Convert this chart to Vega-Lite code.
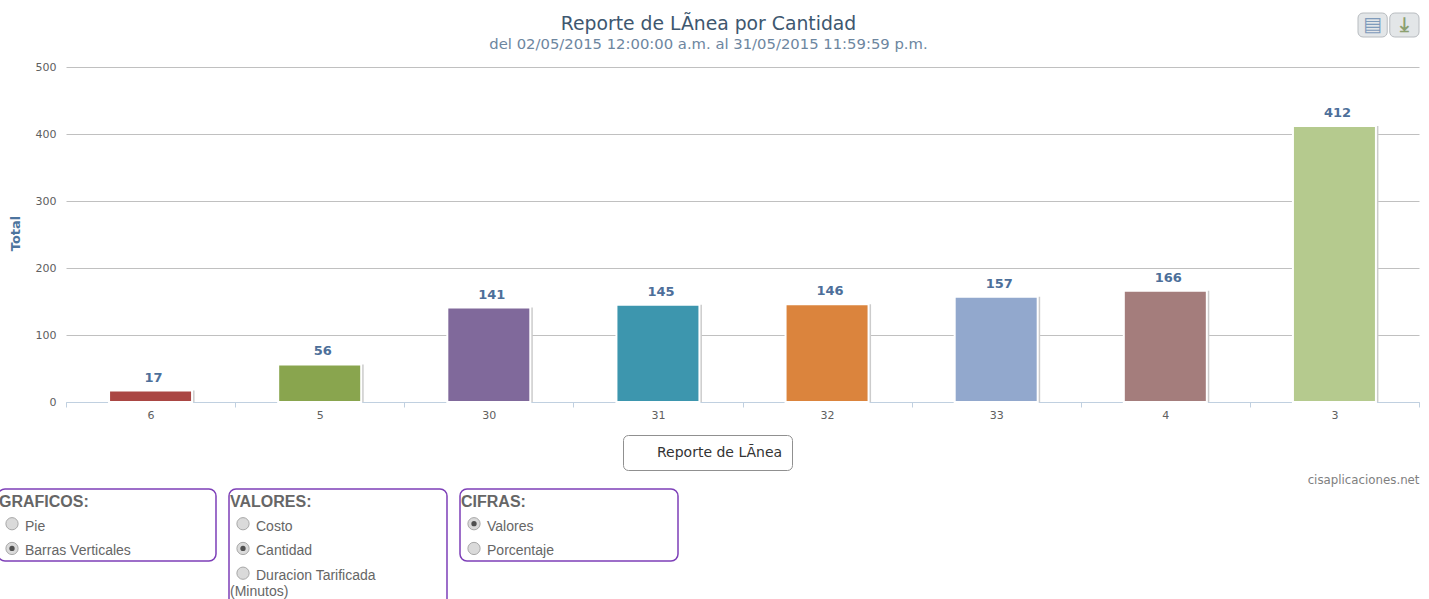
{
"$schema":"https://vega.github.io/schema/vega-lite/v6.json",
"background":"white",
"padding":{"left":-3,"top":12,"right":0,"bottom":0},
"config":{"view":{"stroke":null},"font":"DejaVu Sans"},
"datasets":{
"bars":[
{"line":"6","total":17,"series":"Reporte de LÃnea"},
{"line":"5","total":56,"series":"Reporte de LÃnea"},
{"line":"30","total":141,"series":"Reporte de LÃnea"},
{"line":"31","total":145,"series":"Reporte de LÃnea"},
{"line":"32","total":146,"series":"Reporte de LÃnea"},
{"line":"33","total":157,"series":"Reporte de LÃnea"},
{"line":"4","total":166,"series":"Reporte de LÃnea"},
{"line":"3","total":412,"series":"Reporte de LÃnea"}],
"buttons":[{"action":"print","glyph":"▤","tone":"print"},{"action":"download","glyph":"⤓","tone":"download"}],
"panels":[{"panel":"GRAFICOS","firstRow":-0.485,"lastRow":2.43},{"panel":"VALORES","firstRow":-0.485,"lastRow":4.25},{"panel":"CIFRAS","firstRow":-0.485,"lastRow":2.43}],
"options":[
{"panel":"GRAFICOS","row":0,"label":"GRAFICOS:","kind":"header","selected":false},
{"panel":"GRAFICOS","row":1,"label":"Pie","kind":"radio","selected":false},
{"panel":"GRAFICOS","row":2,"label":"Barras Verticales","kind":"radio","selected":true},
{"panel":"VALORES","row":0,"label":"VALORES:","kind":"header","selected":false},
{"panel":"VALORES","row":1,"label":"Costo","kind":"radio","selected":false},
{"panel":"VALORES","row":2,"label":"Cantidad","kind":"radio","selected":true},
{"panel":"VALORES","row":3,"label":"Duracion Tarificada","kind":"radio","selected":false},
{"panel":"VALORES","row":3.68,"label":"(Minutos)","kind":"wrap","selected":false},
{"panel":"CIFRAS","row":0,"label":"CIFRAS:","kind":"header","selected":false},
{"panel":"CIFRAS","row":1,"label":"Valores","kind":"radio","selected":true},
{"panel":"CIFRAS","row":2,"label":"Porcentaje","kind":"radio","selected":false}]
},
"align":"none",
"spacing":2,
"vconcat":[
{"width":1353,"height":335,
 "title":{"text":"Reporte de LÃnea por Cantidad","subtitle":"del 02/05/2015 12:00:00 a.m. al 31/05/2015 11:59:59 p.m.","anchor":"middle","dx":-34,"font":"DejaVu Sans","fontSize":18.8,"fontWeight":"normal","color":"#3E576F","subtitleFont":"DejaVu Sans","subtitleFontSize":14.8,"subtitleColor":"#6D869F","subtitlePadding":3,"offset":-39},
 "layer":[
 {"data":{"name":"bars"},
  "encoding":{
   "x":{"field":"line","type":"nominal","sort":null,"scale":{"paddingInner":0,"paddingOuter":0},
    "axis":{"title":"cisaplicaciones.net","titleAnchor":"end","titleFontSize":11.8,"titleFontWeight":"normal","titleColor":"#808080","titlePadding":54,"labelAngle":0,"labelFontSize":11,"labelColor":"#606060","labelPadding":2,"domainColor":"#C0D0E0","tickColor":"#C0D0E0","tickSize":5,"tickBand":"extent","grid":false}},
   "y":{"field":"total","type":"quantitative","scale":{"domain":[0,500]},
    "axis":{"title":"Total","titleFontSize":13,"titleFontWeight":"bold","titleColor":"#4D759E","titleX":-44,"titleY":166,"values":[0,100,200,300,400,500],"labelFontSize":11,"labelColor":"#606060","labelPadding":10,"domain":false,"ticks":false,"gridColor":"#C0C0C0","minExtent":68}}
  },
  "layer":[
   {"mark":{"type":"bar","size":83,"fill":"#CCCCCC","xOffset":2.5}},
   {"mark":{"type":"bar","size":83,"stroke":"white","strokeWidth":2},
    "encoding":{
     "color":{"field":"line","type":"nominal","sort":null,"legend":null,"scale":{"domain":["6","5","30","31","32","33","4","3"],"range":["#AA4643","#89A54E","#80699B","#3D96AE","#DB843D","#92A8CD","#A47D7C","#B5CA8E"]}},
     "opacity":{"field":"series","type":"nominal","scale":{"range":[1]},
      "legend":{"title":null,"orient":"none","legendX":557,"legendY":368,"strokeColor":"#909090","cornerRadius":5,"padding":9,"labelFontSize":14,"labelColor":"#333333","labelFont":"DejaVu Sans","symbolSize":289,"labelOffset":8,"offset":0,"symbolOpacity":0,"symbolStrokeWidth":0,"symbolFillColor":"white"}}}},
   {"mark":{"type":"text","dy":-13,"dx":3,"fontWeight":"bold","fontSize":13,"color":"#4D6F9A"},"encoding":{"text":{"field":"total","type":"quantitative"}}}
  ]},
 {"data":{"name":"buttons"},
  "encoding":{
   "x":{"field":"action","type":"nominal","sort":null,"axis":null,"scale":{"domain":["print","download"],"range":[1292,1353],"paddingInner":0.08,"paddingOuter":0}}
  },
  "layer":[
   {"mark":{"type":"bar","fill":"#E3E6E8","stroke":"#B8BCC0","cornerRadius":5,"clip":false},
    "encoding":{"y":{"datum":0,"type":"quantitative","axis":null,"scale":{"domain":[0,1],"range":[-30,-54]}},"y2":{"datum":1}}},
   {"mark":{"type":"text","fontSize":20,"font":"DejaVu Sans","fontWeight":"bold"},
    "encoding":{"y":{"datum":0.5,"type":"quantitative","axis":null,"scale":{"domain":[0,1],"range":[-30,-54]}},
     "text":{"field":"glyph"},
     "color":{"field":"tone","type":"nominal","legend":null,"scale":{"domain":["print","download"],"range":["#7F9BBB","#8CA070"]}}}}
  ]}
 ],
 "resolve":{"scale":{"x":"independent","y":"independent","color":"independent"},"axis":{"x":"independent","y":"independent"}}
},
{"width":612,"height":117,
 "layer":[
  {"data":{"name":"panels"},"mark":{"type":"bar","fill":"transparent","stroke":"#7D3FB8","strokeWidth":1.5,"cornerRadius":7},
   "encoding":{
    "x":{"field":"panel","type":"nominal","sort":["GRAFICOS","VALORES","CIFRAS"],"axis":null,"scale":{"domain":["GRAFICOS","VALORES","CIFRAS"],"range":[-68,612],"paddingInner":0.0563,"paddingOuter":0}},
    "y":{"field":"firstRow","type":"quantitative","axis":null,"scale":{"domain":[0,3.68],"range":[12,103],"nice":false,"zero":false}},"y2":{"field":"lastRow"}}},
  {"data":{"name":"options"},"transform":[{"filter":"datum.kind==='radio'"}],"mark":{"type":"point","filled":true,"size":150,"fill":"#DADADA","stroke":"#A8A8A8","strokeWidth":1,"opacity":1,"xOffset":14,"yOffset":-2},
   "encoding":{"x":{"field":"panel","type":"nominal","bandPosition":0},"y":{"field":"row","type":"quantitative"}}},
  {"data":{"name":"options"},"transform":[{"filter":"datum.selected"}],"mark":{"type":"point","filled":true,"size":28,"fill":"#505050","opacity":1,"xOffset":14,"yOffset":-2},
   "encoding":{"x":{"field":"panel","type":"nominal","bandPosition":0},"y":{"field":"row","type":"quantitative"}}},
  {"data":{"name":"options"},"transform":[{"filter":"datum.kind==='radio'"}],"mark":{"type":"text","align":"left","font":"Liberation Sans","fontSize":14,"color":"#666666","xOffset":27,"yOffset":1},
   "encoding":{"x":{"field":"panel","type":"nominal","bandPosition":0},"y":{"field":"row","type":"quantitative"},"text":{"field":"label"}}},
  {"data":{"name":"options"},"transform":[{"filter":"datum.kind==='wrap'"}],"mark":{"type":"text","align":"left","font":"Liberation Sans","fontSize":14,"color":"#666666","xOffset":1},
   "encoding":{"x":{"field":"panel","type":"nominal","bandPosition":0},"y":{"field":"row","type":"quantitative"},"text":{"field":"label"}}},
  {"data":{"name":"options"},"transform":[{"filter":"datum.kind==='header'"}],"mark":{"type":"text","align":"left","font":"Liberation Sans","fontSize":16,"fontWeight":"bold","color":"#666666","xOffset":1,"yOffset":1},
   "encoding":{"x":{"field":"panel","type":"nominal","bandPosition":0},"y":{"field":"row","type":"quantitative"},"text":{"field":"label"}}}
 ]}
]
}
